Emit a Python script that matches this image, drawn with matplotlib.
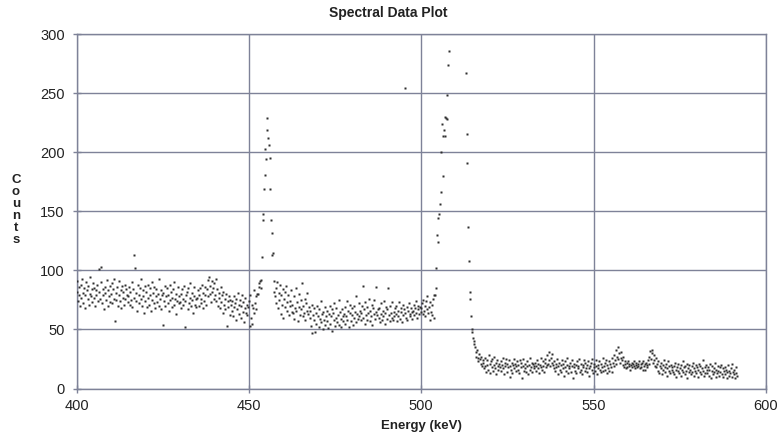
#!/usr/bin/env python3
"""Scatter plot of a gamma spectrum (counts per channel) between 400 and 600 keV.

    python3 plot.py
"""
from __future__ import annotations

import matplotlib

matplotlib.use("Agg")
import matplotlib.pyplot as plt
import numpy as np

# channel width of the spectrum (keV per channel)
STEP_KEV = 0.2

# background below the 455 keV line, channels from 400.0 keV
bg_low_start = 400.0
bg_low = [
    82, 91, 74, 79, 86, 70, 88, 77, 93, 81, 72, 85, 79, 68, 90, 83, 76, 87, 71, 80, 94, 78, 84, 73, 89,
    77, 85, 70, 83, 79, 88, 74, 101, 82, 76, 90, 103, 72, 84, 79, 67, 86, 81, 75, 92, 70, 83, 78, 87, 73,
    80, 89, 72, 84, 76, 93, 57, 81, 75, 86, 70, 79, 91, 74, 83, 68, 87, 77, 82, 71, 88, 76, 84, 79, 73,
    78, 86, 71, 82, 75, 90, 69, 84, 77, 113, 102, 74, 81, 66, 88, 79, 72, 85, 76, 93, 70, 83, 78, 64, 87,
    74, 82, 69, 88, 77, 71, 85, 79, 66, 90, 75, 81, 72, 86, 68, 78, 84, 73, 80, 93, 70, 76, 83, 67, 79,
    54, 81, 74, 87, 70, 78, 85, 72, 79, 66, 88, 75, 82, 69, 77, 84, 71, 90, 76, 63, 80, 74, 86, 72, 78,
    73, 80, 68, 84, 76, 71, 87, 74, 52, 79, 82, 67, 85, 72, 77, 89, 70, 75, 81, 64, 78, 86, 71, 76, 69,
    77, 83, 70, 79, 85, 72, 76, 88, 68, 81, 74, 86, 79, 71, 84, 92, 78, 94, 80, 87, 73, 91, 82, 85, 76,
    89, 79, 93, 74, 84, 70, 81, 77, 68, 86, 73, 79, 64, 82, 71, 76, 67, 80, 53, 74, 69, 78, 62, 75, 71,
    66, 74, 61, 78, 69, 72, 58, 76, 67, 81, 63, 71, 75, 60, 70, 79, 65, 73, 56, 68, 77, 64, 71, 62, 69,
    74, 53, 79, 60, 71, 55, 68, 83, 64, 72, 78, 67, 80,
]

# 455 keV photopeak
peak1_start = 452.6
peak1 = [
    80, 86, 89, 91, 92, 85, 111, 143, 148, 169, 181, 203, 194, 219, 229, 212, 206, 195, 169, 143,
    132, 113, 115, 91, 82,
]

# background between the two lines
bg_mid_start = 457.6
bg_mid = [
    78, 85, 72, 90, 68, 81, 75, 88, 63, 79, 71, 84, 60, 76, 82, 69, 87, 73, 66, 79, 62, 74, 70, 83, 65,
    71, 64, 78, 59, 68, 85, 66, 73, 57, 80, 69, 62, 75, 67, 89, 61, 70, 64, 76, 58, 72, 66, 81, 63, 69,
    60, 66, 53, 71, 47, 62, 58, 68, 48, 64, 55, 70, 61, 52, 67, 59, 74, 56, 63, 50, 65, 58, 69, 54, 61,
    57, 66, 51, 63, 70, 55, 61, 67, 49, 64, 58, 72, 53, 60, 68, 56, 62, 75, 54, 65, 59, 52, 67, 61, 57,
    63, 69, 55, 61, 74, 58, 66, 52, 64, 71, 57, 62, 68, 54, 70, 60, 65, 78, 56, 63, 59, 72, 61, 66, 58,
    64, 70, 87, 60, 67, 55, 73, 62, 58, 69, 64, 76, 57, 66, 61, 71, 54, 68, 63, 75, 59, 65, 86, 62, 67,
    60, 68, 56, 72, 63, 58, 66, 61, 74, 55, 64, 69, 59, 67, 85, 62, 57, 70, 64, 60, 73, 58, 65, 61, 68,
    63, 70, 57, 66, 61, 73, 59, 65, 68, 56, 71, 62, 67, 254, 64, 60, 69, 58, 66, 72, 63, 61, 68, 65, 59,
    66, 71, 62, 68, 64, 74, 60, 67, 70, 63, 69, 65,
]

# rising edge of the 511 keV annihilation line
peak2_rise_start = 500.0
peak2_rise = [
    68, 72, 63, 75, 66, 70, 61, 74, 67, 78, 64, 69, 58, 73, 65, 71, 62, 76, 60, 79,
    79, 102, 85, 130, 124, 144, 148, 156, 166, 200, 224, 180, 214, 219, 230, 214, 229, 248, 228, 274,
    286,
]

# falling edge of the 511 keV line and the flat tail above it
tail_start = 513.0
tail = [
    267, 215, 191, 137, 108, 82, 76, 61, 48, 50, 43, 40, 38, 35, 31, 27, 33, 26, 23, 29, 25, 21, 27, 19, 24,
    22, 17, 26, 19, 14, 24, 20, 16, 28, 21, 13, 23, 18, 25, 15, 20, 27, 17, 22, 12, 24, 19, 16, 21, 18,
    23, 15, 20, 26, 17, 12, 22, 19, 25, 14, 21, 18, 24, 10, 19, 16, 22, 13, 20, 25, 17, 21, 15, 19, 23,
    16, 20, 13, 24, 18, 22, 9, 19, 25, 15, 21, 17, 14, 23, 19, 12, 20, 26, 16, 18, 22, 14, 21, 17, 19,
    22, 15, 19, 24, 17, 21, 13, 20, 26, 18, 16, 23, 19, 14, 22, 25, 18, 20, 28, 21, 31, 24, 19, 26, 22,
    29, 20, 17, 23, 15, 21, 18, 25, 12, 19, 22, 16, 20, 14, 24, 17, 21, 11, 18, 23, 15, 20, 26, 13, 19,
    17, 22, 14, 19, 24, 9, 18, 21, 15, 20, 13, 23, 17, 19, 25, 14, 21, 16, 12, 20, 18, 24, 15, 22, 17,
    20, 14, 23, 17, 11, 19, 22, 16, 25, 13, 18, 21, 15, 24, 19, 12, 20, 17, 23, 16, 14, 21, 18, 26, 15,
    19, 22, 16, 24, 13, 20, 17, 23, 15, 21, 18, 26, 14, 22, 19, 28, 24, 33, 21, 27, 35, 25, 30, 22, 26,
    31, 24, 20, 27, 18, 23, 21, 17, 22, 18, 23, 19, 21, 16, 20, 22, 18, 21, 19, 23, 17, 20, 22, 18, 21,
    19, 23, 17, 21, 18, 22, 16, 23, 19, 21, 16, 22, 20, 18, 24, 27, 21, 32, 25, 30, 33, 22, 28, 24, 19,
    26, 18, 21, 15, 23, 13, 19, 17, 22, 12, 20, 16, 24, 14, 18, 21, 11, 17, 23, 15, 19, 13, 20, 16, 18,
    14, 19, 12, 22, 16, 10, 18, 15, 21, 13, 17, 20, 11, 16, 23, 14, 18, 12, 19, 15, 21, 9, 17, 14, 20,
    16, 12, 19, 14, 22, 11, 17, 15, 20, 13, 18, 10, 16, 21, 14, 19, 12, 17, 24, 15, 11, 18, 13, 20, 16,
    13, 18, 11, 16, 21, 9, 15, 19, 12, 17, 14, 22, 10, 16, 13, 19, 15, 11, 18, 14, 20, 12, 17, 10, 15,
    18, 12, 16, 9, 14, 20, 11, 15, 13, 17, 10, 21, 14, 12, 16, 9, 13, 18, 11,
]

x_ticks = [400, 450, 500, 550, 600]
y_ticks = [0, 50, 100, 150, 200, 250, 300]

GRID_COLOR = "#7e8298"
DOT_COLOR = "#2e2e2e"
TEXT_COLOR = "#222222"


def channels(start: float, counts: list[int]) -> np.ndarray:
    return start + STEP_KEV * np.arange(len(counts))


def main() -> None:
    plt.rcParams["font.family"] = ["Liberation Sans", "DejaVu Sans"]

    segments = [
        (bg_low_start, bg_low),
        (peak1_start, peak1),
        (bg_mid_start, bg_mid),
        (peak2_rise_start, peak2_rise),
        (tail_start, tail),
    ]
    energy = np.concatenate([channels(s, c) for s, c in segments])
    counts = np.concatenate([np.asarray(c, dtype=float) for _, c in segments])

    fig = plt.figure(figsize=(7.8, 4.36), dpi=100)
    ax = fig.add_axes([76.5 / 780, 1 - 388.5 / 436, 689.5 / 780, 354.5 / 436])

    ax.plot(energy, counts, linestyle="none", marker="s", ms=1.5,
            mec="none", color=DOT_COLOR, zorder=3)

    ax.set_xlim(x_ticks[0], x_ticks[-1])
    ax.set_ylim(y_ticks[0], y_ticks[-1])
    ax.set_xticks(x_ticks)
    ax.set_yticks(y_ticks)
    ax.grid(True, color=GRID_COLOR, linewidth=1.0)
    ax.set_axisbelow(True)
    for spine in ax.spines.values():
        spine.set_color(GRID_COLOR)
        spine.set_linewidth(1.0)
    ax.tick_params(direction="inout", length=6, width=1.0, color=GRID_COLOR,
                   labelsize=10.5, labelcolor=TEXT_COLOR)
    ax.tick_params(axis="x", pad=4.5)
    ax.tick_params(axis="y", pad=5.5)

    ax.set_xlabel("Energy (keV)", fontsize=9.5, fontweight="bold",
                  color=TEXT_COLOR, labelpad=5)
    fig.text(388 / 780, 1 - 13 / 436, "Spectral Data Plot", ha="center",
             va="center", fontsize=10, fontweight="bold", color=TEXT_COLOR)
    fig.text(16 / 780, 1 - 210 / 436, "C\no\nu\nn\nt\ns", ha="center",
             va="center", fontsize=9.5, fontweight="bold", color=TEXT_COLOR,
             linespacing=1.0)

    fig.savefig("out.png", dpi=100)
    plt.close(fig)


if __name__ == "__main__":
    main()
